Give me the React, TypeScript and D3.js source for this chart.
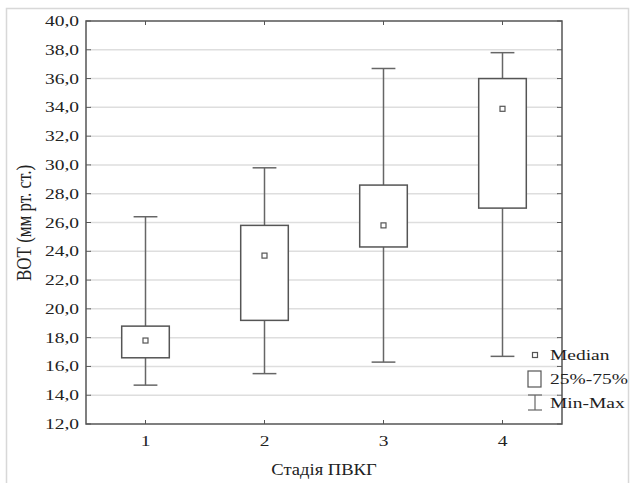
import React, { useEffect, useRef } from "react";
import * as d3 from "d3";

// stages on the x axis
const stages = [1, 2, 3, 4];
// box plot values (мм рт. ст.)
const minValues = [14.7, 15.5, 16.3, 16.7];
const q1Values = [16.6, 19.2, 24.3, 27.0];
const medianValues = [17.8, 23.7, 25.8, 33.9];
const q3Values = [18.8, 25.8, 28.6, 36.0];
const maxValues = [26.4, 29.8, 36.7, 37.8];
const yTicks = [12, 14, 16, 18, 20, 22, 24, 26, 28, 30, 32, 34, 36, 38, 40];
const legendLabels = ["Median", "25%-75%", "Min-Max"];

const W = 633;
const H = 483;

const App = () => {
  const ref = useRef<SVGSVGElement | null>(null);

  useEffect(() => {
    if (!ref.current) return;
    const svg = d3.select(ref.current);
    svg.selectAll("*").remove();

    const left = 86;
    const right = 562;
    const top = 21;
    const bottom = 424;
    const ink = "#555";
    const textColor = "#222";
    const font = "'Liberation Serif', 'Times New Roman', serif";

    const x = d3.scaleLinear().domain([0.5, 4.5]).range([left, right]);
    const y = d3.scaleLinear().domain([12, 40]).range([bottom, top]);
    const band = x(2) - x(1);
    const boxW = band * 0.4;
    const capW = band * 0.2;

    // the source picture is stretched horizontally, so text gets an x scale
    const text = (
      g: d3.Selection<SVGGElement, unknown, null, undefined>,
      tx: number,
      ty: number,
      str: string,
      anchor: string,
      size = 15,
      sx = 1.3,
      rotate = false
    ) =>
      g
        .append("text")
        .attr(
          "transform",
          `translate(${tx},${ty}) scale(${sx},1)${rotate ? " rotate(-90)" : ""}`
        )
        .attr("text-anchor", anchor)
        .attr("font-family", font)
        .attr("font-size", size)
        .attr("fill", textColor)
        .text(str);

    // outer frame
    svg
      .append("rect")
      .attr("x", 6.5)
      .attr("y", 8.5)
      .attr("width", 622)
      .attr("height", 490)
      .attr("fill", "white")
      .attr("stroke", "#d8d8d8")
      .attr("stroke-width", 1.5);

    const g = svg.append("g");

    // gridlines
    g.selectAll(".grid")
      .data(yTicks.slice(1, -1))
      .enter()
      .append("line")
      .attr("x1", left + 4)
      .attr("x2", right - 4)
      .attr("y1", (d) => y(d))
      .attr("y2", (d) => y(d))
      .attr("stroke", "#dedede")
      .attr("stroke-width", 1.5);

    // inward ticks on all sides
    yTicks.forEach((t) => {
      g.append("line")
        .attr("x1", left).attr("x2", left + 5)
        .attr("y1", y(t)).attr("y2", y(t))
        .attr("stroke", ink).attr("stroke-width", 1);
      g.append("line")
        .attr("x1", right - 5).attr("x2", right)
        .attr("y1", y(t)).attr("y2", y(t))
        .attr("stroke", ink).attr("stroke-width", 1);
      text(g, left - 7, y(t) + 5, t.toFixed(1).replace(".", ","), "end");
    });
    stages.forEach((s) => {
      g.append("line")
        .attr("x1", x(s)).attr("x2", x(s))
        .attr("y1", bottom).attr("y2", bottom - 4)
        .attr("stroke", ink).attr("stroke-width", 1);
      g.append("line")
        .attr("x1", x(s)).attr("x2", x(s))
        .attr("y1", top).attr("y2", top + 4)
        .attr("stroke", ink).attr("stroke-width", 1);
      text(g, x(s), bottom + 22, String(s), "middle");
    });

    // plot frame
    g.append("rect")
      .attr("x", left)
      .attr("y", top)
      .attr("width", right - left)
      .attr("height", bottom - top)
      .attr("fill", "none")
      .attr("stroke", ink)
      .attr("stroke-width", 1.5);

    // boxes
    stages.forEach((s, i) => {
      const cx = x(s);
      g.append("line")
        .attr("x1", cx).attr("x2", cx)
        .attr("y1", y(maxValues[i])).attr("y2", y(q3Values[i]))
        .attr("stroke", "#666").attr("stroke-width", 1.5);
      g.append("line")
        .attr("x1", cx).attr("x2", cx)
        .attr("y1", y(q1Values[i])).attr("y2", y(minValues[i]))
        .attr("stroke", "#666").attr("stroke-width", 1.5);
      [maxValues[i], minValues[i]].forEach((v) =>
        g.append("line")
          .attr("x1", cx - capW / 2).attr("x2", cx + capW / 2)
          .attr("y1", y(v)).attr("y2", y(v))
          .attr("stroke", "#666").attr("stroke-width", 1.5)
      );
      g.append("rect")
        .attr("x", cx - boxW / 2)
        .attr("y", y(q3Values[i]))
        .attr("width", boxW)
        .attr("height", y(q1Values[i]) - y(q3Values[i]))
        .attr("fill", "white")
        .attr("stroke", ink)
        .attr("stroke-width", 1.5);
      g.append("rect")
        .attr("x", cx - 2.5)
        .attr("y", y(medianValues[i]) - 2.5)
        .attr("width", 5)
        .attr("height", 5)
        .attr("fill", "white")
        .attr("stroke", ink)
        .attr("stroke-width", 1.2);
    });

    // axis titles
    text(g, (left + right) / 2, 475, "Стадія ПВКГ", "middle", 16, 1.16);
    text(g, 31, 223, "ВОТ (мм рт. ст.)", "middle", 17, 1.25, true);

    // legend
    const lx = 535;
    const ly = [355, 379, 403];
    g.append("rect")
      .attr("x", lx - 2.5).attr("y", ly[0] - 2.5)
      .attr("width", 5).attr("height", 5)
      .attr("fill", "white").attr("stroke", ink).attr("stroke-width", 1.2);
    g.append("rect")
      .attr("x", lx - 7).attr("y", ly[1] - 8)
      .attr("width", 13).attr("height", 16)
      .attr("fill", "white").attr("stroke", ink).attr("stroke-width", 1.2);
    g.append("line")
      .attr("x1", lx).attr("x2", lx)
      .attr("y1", ly[2] - 8).attr("y2", ly[2] + 7)
      .attr("stroke", "#666").attr("stroke-width", 1.2);
    [ly[2] - 8, ly[2] + 7].forEach((yy) =>
      g.append("line")
        .attr("x1", lx - 7).attr("x2", lx + 7)
        .attr("y1", yy).attr("y2", yy)
        .attr("stroke", "#666").attr("stroke-width", 1.2)
    );
    legendLabels.forEach((l, i) => text(g, 550, ly[i] + 5, l, "start"));
  }, []);

  return (
    <svg
      ref={ref}
      width={W}
      height={H}
      style={{ position: "absolute", left: 0, top: 0, background: "white" }}
    />
  );
};

export default App;
